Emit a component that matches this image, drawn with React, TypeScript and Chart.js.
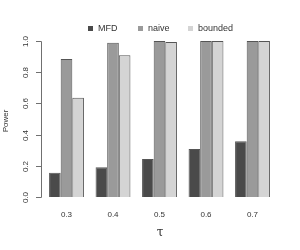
import React, { useEffect, useRef } from "react";
import { Chart, registerables } from "chart.js";

Chart.register(...registerables);

const categories = ["0.3", "0.4", "0.5", "0.6", "0.7"];
const mfd = [0.156, 0.19, 0.243, 0.307, 0.358];
const naive = [0.884, 0.989, 1.0, 1.0, 1.0];
const bounded = [0.636, 0.908, 0.994, 1.0, 1.0];
const yTicks = [0, 0.2, 0.4, 0.6, 0.8, 1.0];
const seriesNames = ["MFD", "naive", "bounded"];
const seriesColors = ["#4a4a4a", "#9a9a9a", "#d4d4d4"];

const FONT = "'Liberation Sans', Arial, Helvetica, sans-serif";

const decorPlugin = {
  id: "decor",
  afterDraw(chart: any) {
    const ctx = chart.ctx;
    const y = chart.scales.y;
    const x = chart.scales.x;
    ctx.save();
    // y axis line
    const axX = 41;
    ctx.strokeStyle = "#707070";
    ctx.lineWidth = 1;
    ctx.beginPath();
    ctx.moveTo(axX + 0.5, Math.round(y.getPixelForValue(0)) + 0.5);
    ctx.lineTo(axX + 0.5, Math.round(y.getPixelForValue(1)) + 0.5);
    ctx.stroke();
    ctx.fillStyle = "#333";
    ctx.font = `8px ${FONT}`;
    ctx.textAlign = "center";
    ctx.textBaseline = "middle";
    yTicks.forEach((t) => {
      const py = Math.round(y.getPixelForValue(t)) + 0.5;
      ctx.beginPath();
      ctx.moveTo(36, py);
      ctx.lineTo(axX + 0.5, py);
      ctx.stroke();
      ctx.save();
      ctx.translate(26, py);
      ctx.rotate(-Math.PI / 2);
      ctx.fillText(t.toFixed(1), 0, 0);
      ctx.restore();
    });
    // y title
    ctx.save();
    ctx.translate(6, 121);
    ctx.rotate(-Math.PI / 2);
    ctx.fillText("Power", 0, 0);
    ctx.restore();
    // x labels
    categories.forEach((c, i) => {
      ctx.fillText(c, x.getPixelForValue(i), 214.5);
    });
    // x title
    ctx.font = `12px 'DejaVu Serif', serif`;
    ctx.fillText("τ", 160, 233);
    // legend
    ctx.font = `9px ${FONT}`;
    ctx.textAlign = "left";
    const sq = [88, 138, 188];
    const tx = [98, 148, 198];
    seriesNames.forEach((n, i) => {
      ctx.fillStyle = seriesColors[i];
      ctx.fillRect(sq[i], 26, 5, 5);
      ctx.fillStyle = "#333";
      ctx.fillText(n, tx[i], 29);
    });
    ctx.restore();
  },
};

export default function App() {
  const ref = useRef<HTMLCanvasElement>(null);
  useEffect(() => {
    if (!ref.current) return;
    const mk = (label: string, data: number[], i: number) => ({
      label,
      data,
      backgroundColor: seriesColors[i],
      borderColor: "#555555",
      borderWidth: 1,
      categoryPercentage: 0.75,
      barPercentage: 1.0,
    });
    const chart = new Chart(ref.current, {
      type: "bar",
      data: {
        labels: categories,
        datasets: [mk("MFD", mfd, 0), mk("naive", naive, 1), mk("bounded", bounded, 2)],
      },
      options: {
        animation: false,
        responsive: false,
        devicePixelRatio: 1,
        layout: { padding: { left: 43.25, right: 24.25, top: 41, bottom: 53 } },
        plugins: { legend: { display: false }, tooltip: { enabled: false } },
        scales: {
          x: { display: false, offset: true },
          y: { display: false, min: 0, max: 1 },
        },
      },
      plugins: [decorPlugin],
    });
    return () => chart.destroy();
  }, []);
  return (
    <div style={{ position: "fixed", left: 0, top: 0, width: 300, height: 250, background: "#fff" }}>
      <canvas ref={ref} width={300} height={250} />
    </div>
  );
}
